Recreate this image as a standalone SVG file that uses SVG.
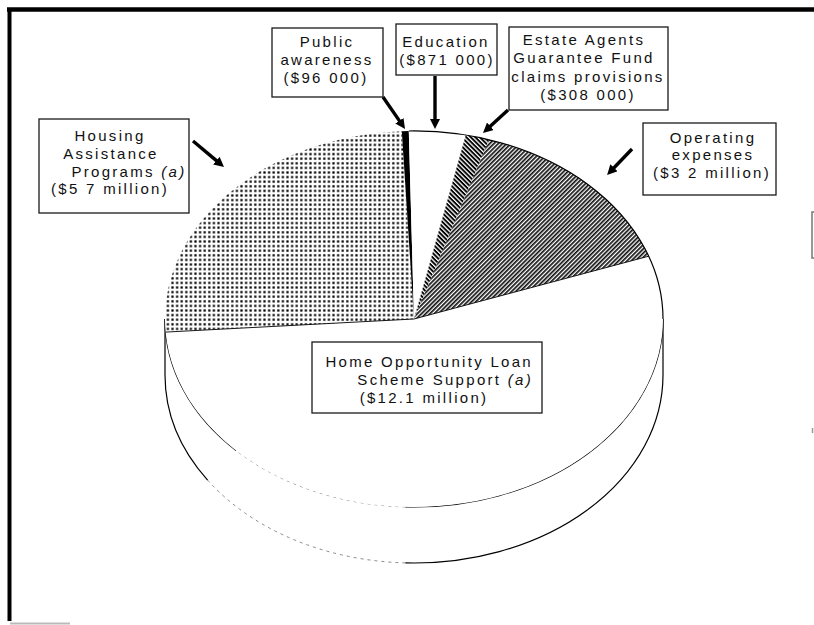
<svg xmlns="http://www.w3.org/2000/svg" width="814" height="625" viewBox="0 0 814 625">
<style>
.lbl{font-family:"Liberation Sans",Arial,Helvetica,sans-serif;font-size:15px;letter-spacing:2.3px;fill:#111}
.box{fill:#fff;stroke:#1a1a1a;stroke-width:1.3}
.arr{stroke:#000;stroke-width:3.4;fill:none;marker-end:url(#head)}
.edge{fill:none;stroke:#000;stroke-width:1.2}
.faint{fill:none;stroke:#8a8a8a;stroke-width:1;stroke-dasharray:3 4}
</style>
<defs>
<marker id="head" viewBox="0 0 10 10" refX="2" refY="5" markerWidth="10" markerHeight="10" markerUnits="userSpaceOnUse" orient="auto">
<path d="M0,0 L10,5 L0,10 Z" fill="#000"/>
</marker>
<pattern id="dots" width="4.6" height="4.6" patternUnits="userSpaceOnUse">
<rect width="4.6" height="4.6" fill="#fff"/>
<rect x="1.2" y="1.2" width="2.2" height="2.2" fill="#000"/>
</pattern>
<pattern id="hatchOp" width="3" height="3" patternUnits="userSpaceOnUse" patternTransform="rotate(-45)">
<rect width="3" height="3" fill="#fff"/>
<rect width="3" height="1.7" fill="#111"/>
</pattern>
<pattern id="hatchEst" width="3.2" height="3.2" patternUnits="userSpaceOnUse" patternTransform="rotate(45)">
<rect width="3.2" height="3.2" fill="#fff"/>
<rect width="3.2" height="1.9" fill="#000"/>
</pattern>
</defs>
<rect width="814" height="625" fill="#fff"/>

<g id="frame">
<path d="M7,9.5 L814,9.5" stroke="#000" stroke-width="4.5"/>
<path d="M9.5,8 L9.5,621" stroke="#000" stroke-width="4"/>
<path d="M10,623.5 L70,623.5" stroke="#bbb" stroke-width="2"/>
<path d="M814,212 L812,212 L812,258 L814,258" fill="none" stroke="#777" stroke-width="1.5"/>
<path d="M812.5,428 L812.5,433" stroke="#999" stroke-width="1.5"/>
</g>

<g id="pie">
<g id="side">
<path d="M165,319 A249,188 0 0 0 663,319 L663,375 A249,188 0 0 1 165,375 Z" fill="#fff"/>
<path class="edge" d="M663,319 A249,188 0 0 1 405.3,506.9"/>
<path class="faint" d="M405.3,506.9 A249,188 0 0 1 236.1,450.6"/>
<path class="edge" d="M236.1,450.6 A249,188 0 0 1 165,319"/>
<path class="edge" d="M663,375 A249,188 0 0 1 405.3,562.9"/>
<path class="faint" d="M405.3,562.9 A249,188 0 0 1 207.6,480.1"/>
<path class="edge" d="M207.6,480.1 A249,188 0 0 1 165,375"/>
<path class="edge" d="M165,319 L165,375 M663,319 L663,375"/>
</g>
<g id="slice-home">
<path d="M414,319 L648.7,256.2 A249,188 0 1 1 165.6,332.1 Z" fill="#fff"/>
</g>
<g id="slice-housing">
<path d="M414,319 L165.6,332.1 A249,188 0 0 1 401.8,131.2 Z" fill="url(#dots)"/>
</g>
<g id="slice-public">
<path d="M414,319 L401.8,131.2 A249,188 0 0 1 408.8,131.0 Z" fill="#000"/>
</g>
<g id="slice-education">
<path d="M414,319 L408.8,131.0 A249,188 0 0 1 465.8,135.1 Z" fill="#fff"/>
</g>
<g id="slice-estate">
<path d="M414,319 L465.8,135.1 A249,188 0 0 1 488.9,139.7 Z" fill="url(#hatchEst)"/>
</g>
<g id="slice-operating">
<path d="M414,319 L488.9,139.7 A249,188 0 0 1 648.7,256.2 Z" fill="url(#hatchOp)"/>
</g>
<path class="edge" d="M408.8,131.0 A249,188 0 0 1 663,319"/>
<path d="M414,319 L165.6,332.1 M414,319 L648.7,256.2" fill="none" stroke="#000" stroke-width="0.9"/>
</g>

<g id="connectors">
<path class="arr" d="M193,141 L217.9,161.9"/>
<path class="arr" d="M383,97 L400.5,122.4"/>
<path class="arr" d="M435,76 L435,121"/>
<path class="arr" d="M508,110 L488.9,127.6"/>
<path class="arr" d="M632,149 L612.6,169.2"/>
</g>

<g id="label-public">
<rect class="box" x="272" y="28" width="111" height="69"/>
<text class="lbl" text-anchor="middle"><tspan x="327" y="47">Public</tspan><tspan x="327" y="65">awareness</tspan><tspan x="326" y="83">($96 000)</tspan></text>
</g>
<g id="label-education">
<rect class="box" x="396" y="24" width="101" height="51"/>
<text class="lbl" text-anchor="middle"><tspan x="446" y="47">Education</tspan><tspan x="447" y="65">($871 000)</tspan></text>
</g>
<g id="label-estate">
<rect class="box" x="509" y="27" width="159" height="83"/>
<text class="lbl" text-anchor="middle"><tspan x="584" y="45">Estate Agents</tspan><tspan x="584" y="63">Guarantee Fund</tspan><tspan x="588" y="82">claims provisions</tspan><tspan x="588" y="100">($308 000)</tspan></text>
</g>
<g id="label-operating">
<rect class="box" x="643" y="123" width="133" height="72"/>
<text class="lbl" text-anchor="middle"><tspan x="713" y="143">Operating</tspan><tspan x="713" y="160">expenses</tspan><tspan x="712" y="178">($3 2 million)</tspan></text>
</g>
<g id="label-housing">
<rect class="box" x="39" y="119" width="150" height="94"/>
<text class="lbl" text-anchor="middle"><tspan x="110" y="141">Housing</tspan><tspan x="111" y="159">Assistance</tspan><tspan x="129" y="177">Programs <tspan font-style="italic">(a)</tspan></tspan><tspan x="110" y="194">($5 7 million)</tspan></text>
</g>
<g id="label-home">
<rect class="box" x="312" y="342" width="230" height="71"/>
<text class="lbl" text-anchor="end"><tspan x="533" y="367">Home Opportunity Loan</tspan><tspan x="533" y="385">Scheme Support <tspan font-style="italic">(a)</tspan></tspan></text>
<text class="lbl" text-anchor="middle" x="424" y="403">($12.1 million)</text>
</g>
</svg>
